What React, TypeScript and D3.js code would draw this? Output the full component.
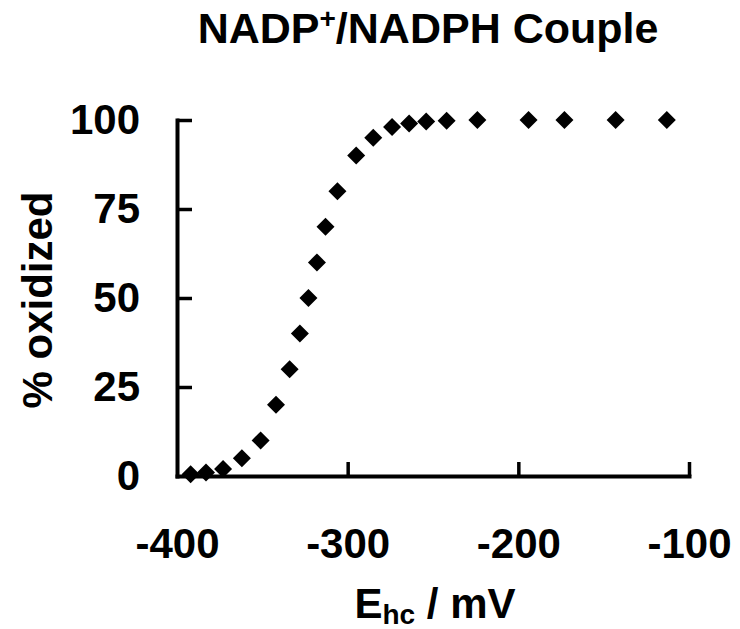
import React, { useRef, useEffect } from 'react';
import * as d3 from 'd3';

// half-cell potential (mV) and percent oxidized
const potentials = [-392, -383, -373, -362, -351, -342, -334, -328, -323, -318, -313, -306, -295, -285, -274, -264, -254, -242, -224, -194, -173, -143, -113];
const oxidized = [0.5, 1, 2, 5, 10, 20, 30, 40, 50, 60, 70, 80, 90, 95, 98, 99, 99.6, 99.8, 100, 100, 100, 100, 100];

const xTicks = [-400, -300, -200, -100];
const yTicks = [0, 25, 50, 75, 100];

const App: React.FC = () => {
  const chartRef = useRef<SVGSVGElement>(null);

  useEffect(() => {
    if (!chartRef.current) return;
    const svg = d3.select(chartRef.current);
    svg.selectAll('*').remove();

    const font = '"Liberation Sans", Arial, sans-serif';

    const x = d3.scaleLinear().domain([-400, -100]).range([177, 689]);
    const y = d3.scaleLinear().domain([0, 100]).range([476, 120]);

    // x axis, ticks pointing inward; plain hyphen for negatives
    const xAxis = svg.append('g')
      .attr('transform', `translate(0,${y(0)})`)
      .call(d3.axisBottom(x).tickValues(xTicks).tickFormat(d => String(d)).tickSizeInner(-14).tickSizeOuter(0).tickPadding(52));

    // y axis
    const yAxis = svg.append('g')
      .attr('transform', `translate(${x(-400)},0)`)
      .call(d3.axisLeft(y).tickValues(yTicks).tickFormat(d => String(d)).tickSizeInner(-15).tickSizeOuter(0).tickPadding(37));

    [xAxis, yAxis].forEach(a => {
      a.select('.domain').attr('stroke', '#000').attr('stroke-width', 4).attr('stroke-linecap', 'square');
      a.selectAll('.tick line').attr('stroke', '#000').attr('stroke-width', 3.5);
      a.selectAll('.tick text')
        .attr('fill', '#000')
        .style('font-family', font)
        .style('font-weight', 'bold')
        .style('font-size', '42px');
    });
    // drop the ticks that sit on the other axis
    xAxis.selectAll('.tick line').filter(d => d === -400).remove();
    yAxis.selectAll('.tick line').filter(d => d === 0).remove();

    // data points as filled diamonds
    const pts = potentials.map((p, i) => ({ p, v: oxidized[i] }));
    svg.append('g')
      .selectAll('path')
      .data(pts)
      .enter()
      .append('path')
      .attr('d', d3.symbol().type(d3.symbolSquare).size(162)())
      .attr('transform', d => `translate(${x(d.p)},${y(d.v)}) rotate(45)`)
      .attr('fill', '#000');

    // title
    const title = svg.append('text')
      .attr('x', 428)
      .attr('y', 43)
      .attr('text-anchor', 'middle')
      .style('font-family', font)
      .style('font-weight', 'bold')
      .style('font-size', '43px');
    title.append('tspan').text('NADP');
    title.append('tspan').attr('dy', -15).style('font-size', '28px').text('+');
    title.append('tspan').attr('dy', 15).text('/NADPH Couple');

    // x axis title
    const xTitle = svg.append('text')
      .attr('x', 435)
      .attr('y', 618)
      .attr('text-anchor', 'middle')
      .style('font-family', font)
      .style('font-weight', 'bold')
      .style('font-size', '42px');
    xTitle.append('tspan').text('E');
    xTitle.append('tspan').attr('dy', 6).style('font-size', '28px').text('hc');
    xTitle.append('tspan').attr('dy', -6).text(' / mV');

    // y axis title
    svg.append('text')
      .attr('transform', 'translate(52,300) rotate(-90)')
      .attr('text-anchor', 'middle')
      .style('font-family', font)
      .style('font-weight', 'bold')
      .style('font-size', '42px')
      .text('% oxidized');
  }, []);

  return (
    <svg
      ref={chartRef}
      width={740}
      height={629}
      style={{ position: 'absolute', left: 0, top: 0, background: '#fff' }}
    />
  );
};

export default App;
